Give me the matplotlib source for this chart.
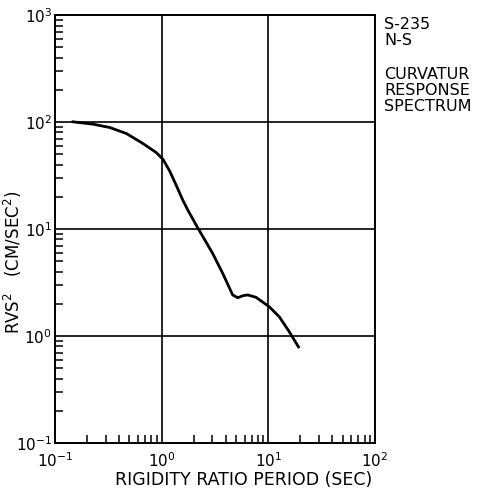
import matplotlib
matplotlib.use('agg')
import matplotlib.pyplot as plt
from matplotlib.ticker import LogLocator, NullFormatter

plt.rcParams['font.family'] = ['DejaVu Sans']
plt.rcParams['mathtext.fontset'] = 'dejavusans'

# curve (period in sec, RVS^2 in cm/sec^2)
period = [0.148, 0.228, 0.327, 0.468, 0.668, 0.891, 1.03, 1.19, 1.37,
          1.58, 1.76, 2.18, 3.01, 3.74, 4.64, 5.17, 5.8, 6.41, 7.67,
          10.2, 12.7, 15.7, 19.2]
rvs = [100.7, 95.7, 89.1, 78.3, 63.2, 52.0, 45.0, 35.0, 25.8,
       18.7, 15.1, 10.3, 5.93, 3.86, 2.42, 2.28, 2.38, 2.42, 2.30,
       1.88, 1.51, 1.10, 0.79]

fig = plt.figure(figsize=(4.94, 4.91), dpi=100)
ax = fig.add_axes([0.111, 0.098, 0.648, 0.871])

ax.plot(period, rvs, color='black', lw=2.0)

ax.set_xscale('log')
ax.set_yscale('log')
ax.set_xlim(0.1, 100)
ax.set_ylim(0.1, 1000)

ax.grid(True, which='major', color='black', lw=1.2)
ax.tick_params(which='major', length=0, labelsize=11)
ax.tick_params(axis='y', which='major', pad=2)
ax.tick_params(axis='x', which='major', pad=6)
ax.tick_params(which='minor', direction='in', length=6, width=1.1,
               left=True, bottom=True, top=False, right=False)
ax.xaxis.set_minor_locator(LogLocator(base=10, subs=range(2, 10)))
ax.yaxis.set_minor_locator(LogLocator(base=10, subs=range(2, 10)))
ax.xaxis.set_minor_formatter(NullFormatter())
ax.yaxis.set_minor_formatter(NullFormatter())
for s in ax.spines.values():
    s.set_linewidth(1.4)

fig.text(244 / 494, 1 - 480 / 491, 'RIGIDITY RATIO PERIOD (SEC)',
         fontsize=12.5, ha='center', va='center')
fig.text(13 / 494, 1 - 262 / 491, r'RVS$^2$   (CM/SEC$^2$)',
         fontsize=12, ha='center', va='center', rotation=90)

fig.text(384 / 494, 1 - 17 / 491, 'S-235\nN-S', fontsize=11.5, va='top',
         linespacing=1.05)
fig.text(384 / 494, 1 - 67 / 491, 'CURVATUR\nRESPONSE\nSPECTRUM',
         fontsize=11.5, va='top', linespacing=1.1)

fig.savefig('out.png', dpi=100)
